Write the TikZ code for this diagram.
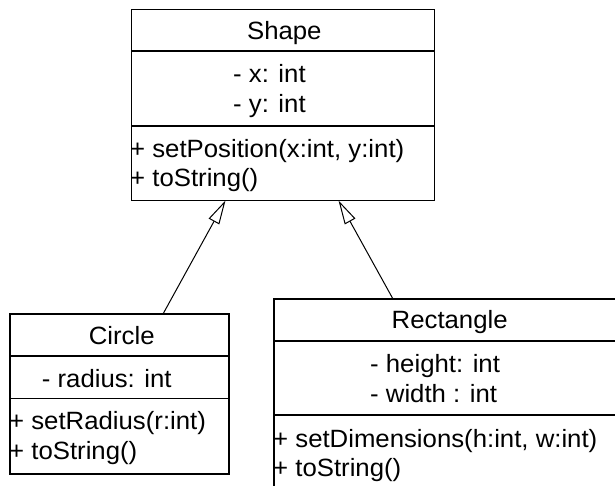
\documentclass[tikz,border=0pt]{standalone}
\usepackage{fontspec}
\setmainfont[FakeStretch=1.03]{Liberation Sans}
\usetikzlibrary{arrows.meta}

\begin{document}
\begin{tikzpicture}[x=1pt, y=-1pt,
  font=\fontsize{25}{30}\selectfont,
  classbox/.style={draw, line width=1.6pt, inner sep=0pt, outer sep=0pt, anchor=north west},
  sepline/.style={line width=1.6pt},
  title/.style={inner sep=0pt, anchor=base},
  member/.style={inner sep=0pt, anchor=base west},
  inherits/.style={line width=1pt, -{Triangle[open, length=24pt, width=12pt, line width=1pt]}}]

\useasboundingbox (0,0) rectangle (615,486);
\clip (0,0) rectangle (615,486);

% ---- Shape ----
\node[classbox, minimum width=303pt, minimum height=191pt] (shape) at (131.5,9.5) {};
\draw[sepline] ([yshift=-41.5pt]shape.north west) -- ([yshift=-41.5pt]shape.north east);
\draw[sepline] ([yshift=-116.5pt]shape.north west) -- ([yshift=-116.5pt]shape.north east);
\node[title]  (shapeT)  at (284.3,40) {Shape};
\node[member] (shapeA1) at (233,83)  {- x: int};
\node[member] (shapeA2) at (233,113) {- y: int};
\node[member] (shapeM1) at (130,158) {+ setPosition(x:int, y:int)};
\node[member] (shapeM2) at (130,187) {+ toString()};

% ---- Circle ----
\node[classbox, minimum width=219pt, minimum height=160pt] (circle) at (10,314) {};
\draw[sepline] ([yshift=-42pt]circle.north west) -- ([yshift=-42pt]circle.north east);
\draw[sepline] ([yshift=-84.5pt]circle.north west) -- ([yshift=-84.5pt]circle.north east);
\node[title]  (circleT)  at (121.7,344) {Circle};
\node[member] (circleA1) at (41.7,387) {- radius: int};
\node[member] (circleM1) at (9,429)   {+ setRadius(r:int)};
\node[member] (circleM2) at (9,459)   {+ toString()};

% ---- Rectangle ----
\node[classbox, minimum width=351pt, minimum height=230pt] (rect) at (274,299) {};
\draw[sepline] ([yshift=-42pt]rect.north west) -- ([yshift=-42pt]rect.north east);
\draw[sepline] ([yshift=-116pt]rect.north west) -- ([yshift=-116pt]rect.north east);
\node[title]  (rectT)  at (449.7,328.3) {Rectangle};
\node[member] (rectA1) at (370,372) {- height: int};
\node[member] (rectA2) at (370,402) {- width : int};
\node[member] (rectM1) at (273,447) {+ setDimensions(h:int, w:int)};
\node[member] (rectM2) at (273,476) {+ toString()};

% ---- generalisation arrows ----
\coordinate (circleTop) at ([xshift=153pt]circle.north west);
\coordinate (rectTop)   at ([xshift=119pt]rect.north west);
\coordinate (shapeL)    at ([xshift=94pt]shape.south west);
\coordinate (shapeR)    at ([xshift=207pt]shape.south west);
\draw[inherits] (circleTop) -- (shapeL);
\draw[inherits] (rectTop) -- (shapeR);
\end{tikzpicture}
\end{document}
